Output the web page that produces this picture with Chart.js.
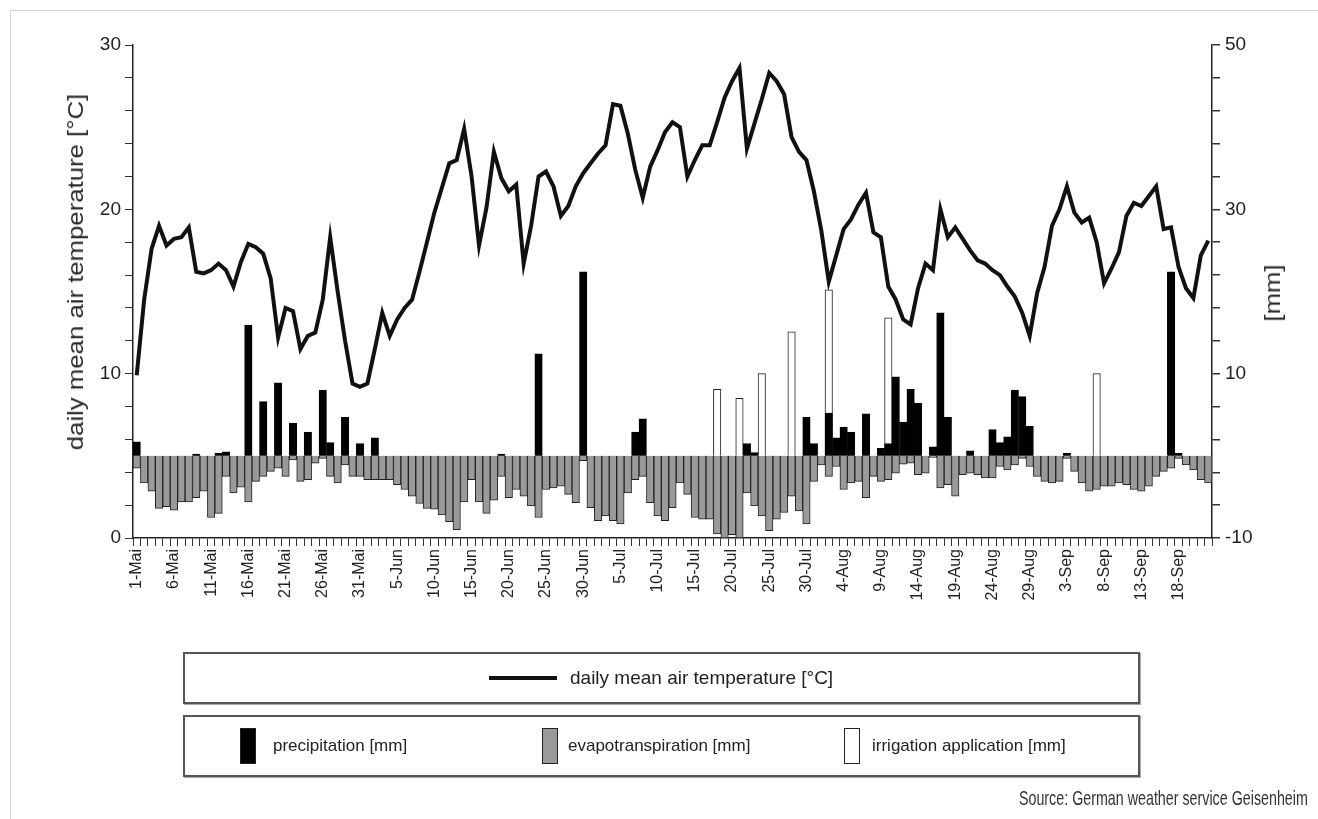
<!DOCTYPE html>
<html>
<head>
<meta charset="utf-8">
<script src="https://cdn.jsdelivr.net/npm/chart.js@4.4.1/dist/chart.umd.min.js"></script>
<style>
  body { margin: 0; background: #fff; font-family: "Liberation Sans", Arial, sans-serif; }
  #wrap { position: relative; width: 1318px; height: 819px; overflow: hidden; }
  #frame { position: absolute; left: 10px; top: 10px; width: 1400px; height: 900px;
           border-top: 1px solid #d4d4d4; border-left: 1px solid #d4d4d4; }
  canvas { position: absolute; left: 0; top: 0; }
  .ytitle { position: absolute; white-space: nowrap; color: #2a2a2a; font-size: 22px;
            transform: translate(-50%, -50%) rotate(-90deg) scaleX(1.17); }
  .box { position: absolute; left: 183px; width: 953px; border: 2px solid #555;
         box-shadow: 1px 1px 0 #aaa; background: #fff; }
  .txt { position: absolute; white-space: nowrap; color: #222; transform: translateY(-50%); }
  .sw { position: absolute; width: 14px; height: 34px; border: 1.5px solid #222; top: 11px; }
  #source { position: absolute; right: 10px; top: 786px; font-size: 21px; color: #333; white-space: nowrap;
            transform: scaleX(0.68); transform-origin: right center; }
</style>
</head>
<body>
<div id="wrap">
  <div id="frame"></div>
  <canvas id="chart" width="1318" height="819"></canvas>
  <div class="ytitle" style="left:76px; top:272px;">daily mean air temperature [°C]</div>
  <div class="ytitle" style="left:1273px; top:293px;">[mm]</div>

  <div class="box" style="top:652px; height:48px;">
    <div style="position:absolute; left:304px; top:22px; width:68px; height:4px; background:#111;"></div>
    <div class="txt" style="left:385px; top:24px; font-size:19px;">daily mean air temperature [°C]</div>
  </div>
  <div class="box" style="top:715px; height:58px;">
    <div class="sw" style="left:55px; background:#000;"></div>
    <div class="txt" style="left:88px; top:29px; font-size:17px;">precipitation [mm]</div>
    <div class="sw" style="left:357px; background:#9a9a9a;"></div>
    <div class="txt" style="left:383px; top:29px; font-size:17px;">evapotranspiration [mm]</div>
    <div class="sw" style="left:659px; background:#fff;"></div>
    <div class="txt" style="left:687px; top:29px; font-size:17px;">irrigation application [mm]</div>
  </div>
  <div id="source">Source: German weather service Geisenheim</div>
</div>

<script>
// tick labels, one every 5 days starting 1 May
const tickLabels = [
  "1-Mai", "6-Mai", "11-Mai", "16-Mai", "21-Mai", "26-Mai", "31-Mai",
  "5-Jun", "10-Jun", "15-Jun", "20-Jun", "25-Jun", "30-Jun",
  "5-Jul", "10-Jul", "15-Jul", "20-Jul", "25-Jul", "30-Jul",
  "4-Aug", "9-Aug", "14-Aug", "19-Aug", "24-Aug", "29-Aug",
  "3-Sep", "8-Sep", "13-Sep", "18-Sep"
];

// daily mean air temperature [°C], 1 May .. 22 Sep
const temperature = [
  9.9, 14.5, 17.6, 19.0, 17.8, 18.2, 18.3, 18.9, 16.2, 16.1,
  16.3, 16.7, 16.3, 15.3, 16.8, 17.9, 17.7, 17.3, 15.8, 12.2,
  14.0, 13.8, 11.5, 12.3, 12.5, 14.5, 18.3, 15.0, 12.0, 9.4,
  9.2, 9.4, 11.5, 13.7, 12.3, 13.3, 14.0, 14.5, 16.2, 18.0,
  19.8, 21.3, 22.8, 23.0, 24.9, 22.0, 17.8, 20.1, 23.5, 21.9,
  21.1, 21.5, 16.7, 19.0, 22.0, 22.3, 21.4, 19.6, 20.2, 21.4,
  22.2, 22.8, 23.4, 23.9, 26.4, 26.3, 24.6, 22.4, 20.7, 22.6,
  23.6, 24.7, 25.3, 25.0, 22.0, 23.0, 23.9, 23.9, 25.3, 26.8,
  27.8, 28.6, 23.7, 25.2, 26.7, 28.3, 27.8, 27.0, 24.4, 23.5,
  23.0, 21.1, 18.7, 15.6, 17.2, 18.8, 19.4, 20.3, 21.0, 18.6,
  18.3, 15.3, 14.5, 13.3, 13.0, 15.2, 16.7, 16.3, 20.0, 18.3,
  18.9, 18.2, 17.5, 16.9, 16.7, 16.3, 16.0, 15.3, 14.7, 13.7,
  12.3, 14.9, 16.5, 19.0, 20.0, 21.4, 19.8, 19.2, 19.5, 18.0,
  15.5, 16.4, 17.4, 19.6, 20.4, 20.2, 20.8, 21.4, 18.8, 18.9,
  16.5, 15.2, 14.6, 17.2, 18.1
];

// daily evapotranspiration [mm] (drawn downwards)
const evapotranspiration = [
  -1.5, -3.3, -4.3, -6.4, -6.2, -6.6, -5.6, -5.6, -5.1, -4.3,
  -7.5, -7.0, -2.5, -4.5, -3.8, -5.6, -3.1, -2.5, -1.9, -1.5,
  -2.5, -0.5, -3.1, -2.9, -0.9, -0.3, -2.5, -3.3, -1.1, -2.5,
  -2.5, -2.9, -2.9, -2.9, -2.9, -3.5, -4.1, -4.9, -5.8, -6.4,
  -6.5, -7.2, -8.0, -9.0, -5.6, -2.9, -5.6, -7.0, -5.4, -2.5,
  -5.1, -4.1, -4.9, -6.1, -7.5, -4.1, -3.9, -3.7, -4.7, -5.7,
  -0.6, -6.3, -7.9, -7.3, -7.9, -8.3, -4.5, -2.9, -2.5, -5.7,
  -7.3, -7.9, -6.3, -3.3, -4.7, -7.5, -7.7, -7.7, -9.5, -10.0,
  -9.6, -10.0, -4.5, -6.1, -7.3, -9.1, -7.7, -6.9, -4.9, -6.7,
  -8.3, -3.1, -1.1, -2.5, -1.3, -4.1, -3.3, -3.1, -5.1, -2.5,
  -3.1, -2.9, -2.1, -1.0, -0.9, -2.3, -2.1, -0.2, -3.9, -3.5,
  -4.9, -2.3, -2.1, -2.3, -2.7, -2.7, -1.3, -1.7, -1.1, -0.3,
  -1.3, -2.5, -3.1, -3.3, -3.1, -0.3, -1.9, -3.3, -4.3, -4.1,
  -3.7, -3.7, -3.3, -3.5, -4.1, -4.3, -3.7, -2.5, -1.9, -1.5,
  -0.3, -1.1, -1.7, -2.9, -3.3
];

// precipitation [mm] on the days it rained (day 0 = 1 May)
const precipDays = [0, 8, 11, 12, 15, 17, 19, 21, 23, 25, 26, 28, 30, 32, 49, 54, 60, 67, 68, 82,
  83, 90, 91, 93, 94, 95, 96, 98, 100, 101, 102, 103, 104, 105, 107, 108, 109, 112, 115, 116,
  117, 118, 119, 120, 125, 139, 140];
const precipMm = [1.7, 0.2, 0.3, 0.5, 15.9, 6.6, 8.9, 4.0, 2.9, 8.0, 1.6, 4.7, 1.5, 2.2, 0.2, 12.4, 22.4, 2.9, 4.5, 1.5,
  0.4, 4.7, 1.5, 5.2, 2.2, 3.5, 2.9, 5.1, 0.9, 1.5, 9.6, 4.1, 8.1, 6.4, 1.1, 17.4, 4.7, 0.6, 3.2, 1.6,
  2.3, 8.0, 7.2, 3.6, 0.3, 22.4, 0.3];

// irrigation application [mm]
const irrigationDays = [78, 81, 84, 88, 93, 101, 129];
const irrigationMm = [8.1, 7.0, 10.0, 15.1, 20.2, 16.8, 10.0];

Chart.defaults.font.family = "'Liberation Sans', Arial, sans-serif";
Chart.defaults.color = "#222";

const axisBorder = { color: "#222", width: 1.5 };

new Chart(document.getElementById("chart"), {
  data: {
    datasets: [
      {
        type: "line",
        data: temperature.map((t, i) => ({ x: i, y: t })),
        yAxisID: "yT",
        borderColor: "#111",
        borderWidth: 4,
        pointRadius: 0,
        tension: 0,
        order: 0
      },
      {
        type: "bar",
        data: precipDays.map((d, k) => ({ x: d, y: precipMm[k] })),
        yAxisID: "yR",
        backgroundColor: "#000",
        borderColor: "#000",
        borderWidth: 1,
        barPercentage: 1,
        categoryPercentage: 1,
        grouped: false,
        order: 1
      },
      {
        type: "bar",
        data: irrigationDays.map((d, k) => ({ x: d, y: irrigationMm[k] })),
        yAxisID: "yR",
        backgroundColor: "#fff",
        borderColor: "#222",
        borderWidth: 1,
        barPercentage: 1,
        categoryPercentage: 1,
        grouped: false,
        order: 2
      },
      {
        type: "bar",
        data: evapotranspiration.map((e, i) => ({ x: i, y: e })),
        yAxisID: "yR",
        backgroundColor: "#9a9a9a",
        borderColor: "#222",
        borderWidth: 1,
        barPercentage: 1,
        categoryPercentage: 1,
        grouped: false,
        order: 3
      }
    ]
  },
  options: {
    responsive: false,
    animation: false,
    devicePixelRatio: 1,
    layout: { padding: { top: 45 } },
    plugins: { legend: { display: false }, tooltip: { enabled: false } },
    scales: {
      x: {
        type: "linear",
        min: 0,
        max: 144,
        afterFit: s => { s.height = 281; },
        ticks: {
          stepSize: 1,
          autoSkip: false,
          maxRotation: 90,
          minRotation: 90,
          padding: 3,
          font: { size: 16 },
          callback: v => (v % 5 === 0 && tickLabels[v / 5]) ? tickLabels[v / 5] : ""
        },
        grid: { drawOnChartArea: false, tickLength: 8, color: "#333" },
        border: axisBorder
      },
      yT: {
        position: "left",
        min: 0,
        max: 30,
        afterFit: s => { s.width = 133; },
        ticks: {
          stepSize: 1,
          padding: 4,
          font: { size: 19 },
          callback: v => v % 5 === 0 ? v : ""
        },
        grid: { drawOnChartArea: false, tickLength: 8, color: "#333" },
        border: axisBorder
      },
      yR: {
        position: "right",
        min: -10,
        max: 50,
        afterFit: s => { s.width = 106; },
        ticks: {
          stepSize: 1,
          padding: 5,
          font: { size: 19 },
          callback: v => v % 10 === 0 ? v : ""
        },
        grid: {
          drawOnChartArea: true,
          tickLength: 8,
          tickColor: "#333",
          lineWidth: 1.5,
          color: c => (c.tick && c.tick.value === 0) ? "#111" : "rgba(0,0,0,0)"
        },
        border: axisBorder
      }
    }
  }
});
</script>
</body>
</html>
